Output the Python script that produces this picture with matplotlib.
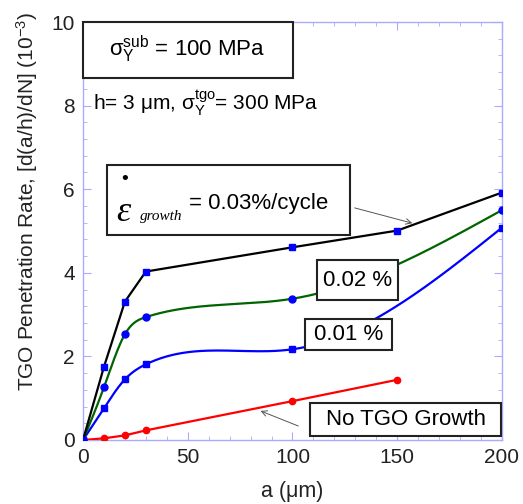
import numpy as np
import matplotlib
matplotlib.use("Agg")
import matplotlib.pyplot as plt
from matplotlib.ticker import MultipleLocator
from matplotlib.patches import Rectangle

plt.rcParams['font.family'] = ['Liberation Sans', 'DejaVu Sans']
plt.rcParams['mathtext.fontset'] = 'custom'
plt.rcParams['mathtext.rm'] = 'Liberation Sans'
plt.rcParams['mathtext.it'] = 'Liberation Serif:italic'
plt.rcParams['mathtext.default'] = 'regular'

# data
a_black = [0, 10, 20, 30, 100, 150, 200]
r_black = [0.0, 1.75, 3.31, 4.03, 4.61, 5.01, 5.92]   # 0.03 %/cycle
a_green = [0, 10, 20, 30, 100, 200]
r_green = [0.0, 1.26, 2.53, 2.94, 3.38, 5.50]        # 0.02 %
a_blue = [0, 10, 20, 30, 100, 200]
r_blue = [0.0, 0.76, 1.45, 1.81, 2.17, 5.08]         # 0.01 %
a_red = [0, 10, 20, 30, 100, 150]
r_red = [0.0, 0.04, 0.11, 0.23, 0.93, 1.44]          # No TGO growth


def natural_spline(x, y, n=400):
    x = np.asarray(x, float); y = np.asarray(y, float)
    k = len(x); h = np.diff(x)
    A = np.zeros((k, k)); b = np.zeros(k)
    A[0, 0] = A[-1, -1] = 1
    for i in range(1, k - 1):
        A[i, i - 1] = h[i - 1]; A[i, i] = 2 * (h[i - 1] + h[i]); A[i, i + 1] = h[i]
        b[i] = 6 * ((y[i + 1] - y[i]) / h[i] - (y[i] - y[i - 1]) / h[i - 1])
    M = np.linalg.solve(A, b)
    xs = np.linspace(x[0], x[-1], n)
    idx = np.clip(np.searchsorted(x, xs) - 1, 0, k - 2)
    x0, x1 = x[idx], x[idx + 1]; hh = x1 - x0
    t0 = x1 - xs; t1 = xs - x0
    ys = (M[idx] * t0**3 + M[idx + 1] * t1**3) / (6 * hh) \
        + (y[idx] / hh - M[idx] * hh / 6) * t0 + (y[idx + 1] / hh - M[idx + 1] * hh / 6) * t1
    return xs, ys


fig = plt.figure(figsize=(5.23, 5.04), dpi=100)
ax = fig.add_axes([0.1587, 0.127, 0.8011, 0.8293])

lw = 1.6
ax.plot(a_red, r_red, color='#ff0000', lw=lw, marker='o', ms=4.5, mfc='#ff0000', mec='#ff0000', zorder=3)
xs, ys = natural_spline(a_blue, r_blue)
ax.plot(xs, ys, color='#0000ff', lw=lw, zorder=3)
ax.plot(a_blue, r_blue, ls='none', marker='s', ms=5, mfc='#0000ff', mec='#0000ff', zorder=4)
xs, ys = natural_spline(a_green, r_green)
ax.plot(xs, ys, color='#006400', lw=lw, zorder=3)
ax.plot(a_green, r_green, ls='none', marker='o', ms=5, mfc='#0000ff', mec='#0000ff', zorder=4)
ax.plot(a_black, r_black, color='#000000', lw=lw, zorder=3)
ax.plot(a_black, r_black, ls='none', marker='s', ms=5, mfc='#0000ff', mec='#0000ff', zorder=4)

ax.set_xlim(0, 200)
ax.set_ylim(0, 10)
ax.xaxis.set_major_locator(MultipleLocator(50))
ax.xaxis.set_minor_locator(MultipleLocator(10))
ax.yaxis.set_major_locator(MultipleLocator(2))
ax.yaxis.set_minor_locator(MultipleLocator(0.4))
spc = '#aaaaff'
for s in ax.spines.values():
    s.set_color(spc)
    s.set_linewidth(1.0)
ax.tick_params(which='both', direction='in', top=True, right=True, color=spc,
               labelsize=15, labelcolor='#222222', pad=6)
ax.tick_params(which='major', length=6)
ax.tick_params(which='minor', length=3)

ax.set_xlabel('a (μm)', fontsize=15.5, color='#222222', va='center')
ax.xaxis.set_label_coords(0.5, -0.124)
ax.set_ylabel('TGO Penetration Rate, [d(a/h)/dN] (10$^{-3}$)', fontsize=15,
              color='#222222', va='center')
ax.yaxis.set_label_coords(-0.134, 0.57)


def box(x0, x1, y0, y1):
    ax.add_patch(Rectangle((x0, y0), x1 - x0, y1 - y0, fc='white', ec='#222222',
                           lw=1.5, zorder=6, clip_on=False))


box(0, 100.2, 8.66, 10)
ax.text(49.6, 9.35, 'σ$_Y^{sub}$ = 100 MPa', fontsize=16, ha='center', va='center', zorder=7)
ax.text(5, 8.06, 'h= 3 μm, σ$_Y^{tgo}$= 300 MPa', fontsize=15, ha='left', va='center', zorder=7)

box(11.5, 127.4, 4.9, 6.58)
ax.text(20, 6.24, '•', fontsize=14, ha='center', va='center', zorder=7)
ax.text(15.8, 5.45, 'ε', fontsize=26, family='Liberation Serif', style='italic',
        ha='left', va='center', zorder=7)
ax.text(27.2, 5.26, 'growth', fontsize=11, family='Liberation Serif', style='italic',
        ha='left', va='baseline', zorder=7)
ax.text(50.5, 5.67, '= 0.03%/cycle', fontsize=16, ha='left', va='center', zorder=7)
ax.annotate('', xy=(158.5, 5.17), xytext=(128.4, 5.57),
            arrowprops=dict(arrowstyle='->', color='#555555', lw=0.7), zorder=5)

box(111.7, 150.4, 3.35, 4.31)
ax.text(131, 3.82, '0.02 %', fontsize=16, ha='center', va='center', zorder=7)
box(106, 147.5, 2.15, 2.89)
ax.text(126.8, 2.53, '0.01 %', fontsize=16, ha='center', va='center', zorder=7)
box(108.5, 199.6, 0.10, 0.89)
ax.text(154.2, 0.49, 'No TGO Growth', fontsize=16, ha='center', va='center', zorder=7)
ax.annotate('', xy=(83.5, 0.72), xytext=(104, 0.31),
            arrowprops=dict(arrowstyle='->', color='#555555', lw=0.7), zorder=5)

fig.savefig('out.png', dpi=100)
